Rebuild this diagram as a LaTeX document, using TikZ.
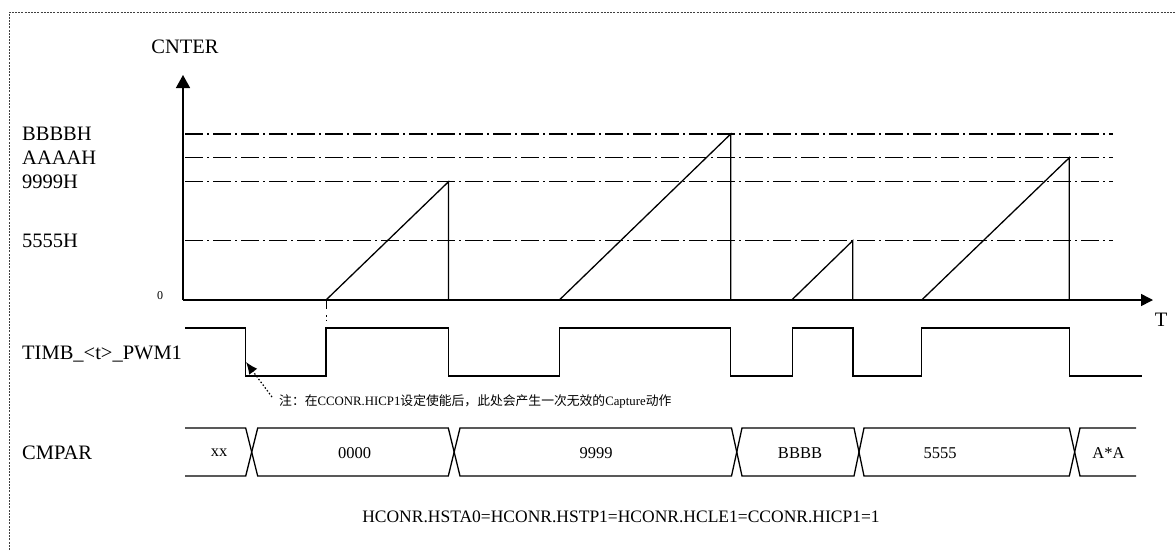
\documentclass[tikz,border=0pt]{standalone}
\usepackage{fontspec}
\setmainfont{Liberation Serif}
\newfontfamily\cjk{Noto Sans CJK SC}
\usetikzlibrary{arrows.meta}
\begin{document}
\begin{tikzpicture}[x=1pt,y=-1pt,
  big/.style={font=\fontsize{20.5}{22}\selectfont, inner sep=0},
  mid/.style={font=\fontsize{16.5}{18}\selectfont, inner sep=0},
  axisline/.style={line width=1.5pt},
  sig/.style={line width=1.3pt},
  level/.style={line width=1.2pt, dash pattern=on 18pt off 4pt on 2pt off 4pt},
  frame/.style={line width=0.8pt, draw=black!75, dash pattern=on 2pt off 1.2pt},
  note/.style={font=\fontsize{12.8}{14}\selectfont, inner sep=0, anchor=base west}]
\useasboundingbox (0,0) rectangle (1175,550);
% frame
\draw[frame] (9,550) -- (9,12) -- (1175,12);
% axes
\coordinate (O) at (183,300);
\coordinate (Ytip) at (183,75);
\coordinate (Xtip) at (1153,300);
\draw[axisline, -{Triangle[length=13pt,width=14pt]}] (O) -- (Ytip);
\draw[axisline, -{Triangle[length=12pt,width=12pt]}] (O) -- (Xtip);
\node[big, anchor=base] (cnter) at (185,53) {CNTER};
\node[big, anchor=base] (tlab) at (1161,326) {T};
\node[font=\fontsize{12}{12}\selectfont, inner sep=0, anchor=base] (zero) at (160,299) {0};
% levels
\foreach \y/\t/\n in {134/BBBBH/lb, 157.7/AAAAH/la, 181.7/9999H/l9, 240.7/5555H/l5}{
  \draw[level] (185,\y) -- (1113,\y);
  \node[big, anchor=west] (\n) at (22,\y) {\t};
}
% sawtooth
\draw[sig] (326,300) -- (448.5,181.7) -- (448.5,300);
\draw[sig] (559.3,300) -- (730.7,134) -- (730.7,300);
\draw[sig] (791.7,300) -- (852.7,240.7) -- (852.7,300);
\draw[sig] (921.7,300) -- (1069.3,157.7) -- (1069.3,300);
\draw[line width=1pt, dash pattern=on 9pt off 6pt on 1.5pt off 3pt] (326,300) -- (326,320);
% PWM
\node[big, anchor=base west] (pwm) at (22,359) {TIMB\_<t>\_PWM1};
\draw[sig] (185,328) -- (245.7,328) -- (245.7,376) -- (326,376) -- (326,328)
  -- (448.5,328) -- (448.5,376) -- (559.3,376) -- (559.3,328) -- (730.7,328)
  -- (730.7,376) -- (792.5,376) -- (792.5,328) -- (853,328) -- (853,376)
  -- (921.5,376) -- (921.5,328) -- (1069.3,328) -- (1069.3,376) -- (1141.7,376);
% annotation
\coordinate (notetail) at (272,397);
\coordinate (notetip) at (246,362);
\draw[line width=1.2pt, dash pattern=on 1.5pt off 2pt, -{Latex[length=12pt,width=10pt]}] (notetail) -- (notetip);
\node[note] (notetext) at (279,405) {{\cjk 注：在}CCONR.HICP1{\cjk 设定使能后，此处会产生一次无效的}Capture{\cjk 动作}};
% CMPAR bus
\node[big, anchor=base west] (cmpar) at (22,459) {CMPAR};
\def\bt{428}\def\bb{476}
\draw[sig] (185,\bt) -- (245.7,\bt) -- (257.7,\bb) -- (448.3,\bb) -- (460,\bt) -- (731.5,\bt) -- (742,\bb) -- (854,\bb) -- (864,\bt) -- (1069.3,\bt) -- (1080,\bb) -- (1136,\bb);
\draw[sig] (185,\bb) -- (245.7,\bb) -- (257.7,\bt) -- (448.3,\bt) -- (460,\bb) -- (731.5,\bb) -- (742,\bt) -- (854,\bt) -- (864,\bb) -- (1069.3,\bb) -- (1080,\bt) -- (1136,\bt);
\node[mid] (vxx) at (219,453) {xx};
\node[mid] (v0) at (354.5,453) {0000};
\node[mid] (v9) at (596,453) {9999};
\node[mid] (vb) at (800,453) {BBBB};
\node[mid] (v5) at (940,453) {5555};
\node[mid] (va) at (1108.5,453) {A*A};
% condition
\node[font=\fontsize{17.5}{19}\selectfont, inner sep=0] (cond) at (621,517) {HCONR.HSTA0=HCONR.HSTP1=HCONR.HCLE1=CCONR.HICP1=1};
\end{tikzpicture}
\end{document}
